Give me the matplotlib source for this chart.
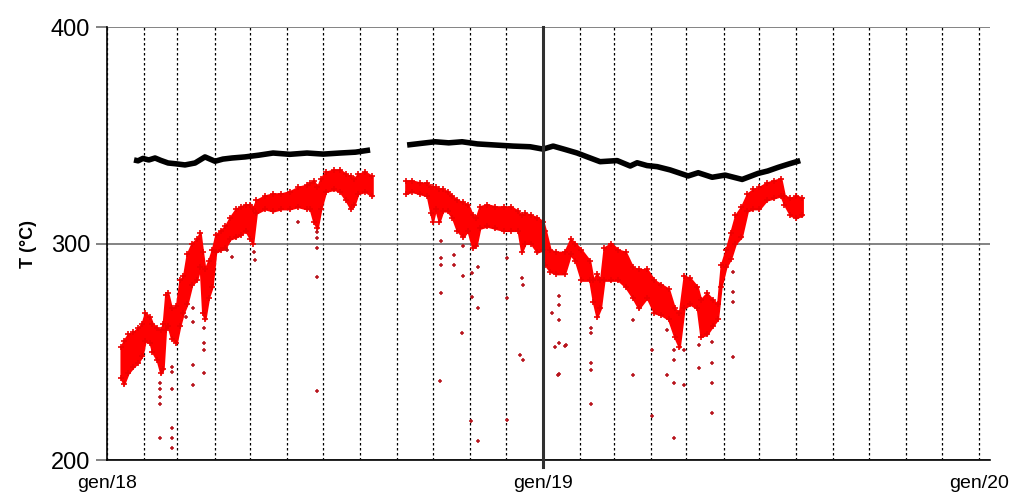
import matplotlib
matplotlib.use("Agg")
import matplotlib.pyplot as plt
import matplotlib.dates as mdates
import numpy as np
from datetime import datetime

plt.rcParams['font.family'] = ['Liberation Sans', 'DejaVu Sans']

# giorni dal 1 gen 2018
# serie rossa: inviluppo (min / max) della nuvola di punti
red1_day = [11.7, 14, 17.6, 22, 26, 29.3, 32, 36, 38, 42, 45, 47, 49, 51, 54, 58, 61, 64, 67, 71,
            75, 78, 80, 82, 85, 88, 91, 95, 99, 103, 108, 112, 116, 120, 122, 125, 132, 139, 146,
            153, 160, 167, 170, 173, 176, 179, 183, 190, 195, 200, 204, 207, 210, 216, 222]
red1_lo = [238, 235, 240, 243, 245, 248, 255, 254, 250, 246, 240, 242, 260, 262, 256, 254, 262, 268,
           272, 281, 283, 289, 268, 265, 275, 280, 296, 297, 298, 302, 303, 304, 306, 302, 300, 314,
           316, 315, 316, 316, 317, 316, 316, 310, 307, 316, 324, 325, 324, 320, 316, 318, 323, 324, 322]
red1_hi = [252, 255, 258, 259, 261, 263, 268, 266, 263, 261, 260, 263, 276, 277, 270, 271, 283, 285,
           295, 300, 302, 305, 296, 288, 292, 297, 304, 306, 308, 312, 316, 317, 318, 318, 316, 320,
           322, 323, 323, 324, 326, 327, 328, 329, 326, 330, 333, 334, 334, 332, 331, 330, 332, 333, 331]

red2_day = [250, 255, 262, 268, 271, 272.5, 275, 278, 281, 285, 289, 293, 298, 302, 306, 309, 312,
            318, 325, 332, 338, 344, 347, 350, 355, 360, 365, 367, 371, 376, 383, 388, 392, 397,
            404, 407, 410, 413, 416, 422, 428, 434, 440, 445, 452, 458, 464, 470, 475, 479, 483,
            488, 494, 497, 502, 507, 511, 514, 518, 522, 526, 531, 536, 541, 546, 552, 558, 564,
            567, 572, 577, 582]
red2_lo = [323, 324, 323, 322, 314, 310, 316, 310, 315, 315, 312, 306, 303, 306, 298, 299, 307, 308,
           307, 306, 306, 306, 296, 300, 300, 296, 297, 290, 287, 286, 286, 295, 292, 283, 283, 273,
           266, 270, 283, 283, 283, 280, 275, 270, 275, 268, 267, 265, 257, 252, 270, 272, 270, 257,
           258, 262, 265, 280, 289, 293, 300, 303, 315, 316, 316, 320, 321, 322, 318, 313, 312, 313]
red2_hi = [329, 329, 328, 328, 326, 326, 326, 325, 325, 324, 322, 320, 319, 318, 313, 312, 317, 318,
           317, 317, 317, 315, 313, 314, 313, 312, 310, 306, 297, 296, 296, 302, 300, 297, 292, 283,
           286, 283, 298, 300, 297, 296, 289, 288, 288, 283, 281, 279, 270, 268, 285, 284, 280, 274,
           277, 274, 272, 290, 297, 305, 313, 317, 323, 325, 326, 328, 329, 330, 322, 321, 322, 321]

# punti isolati
out_day = [44.4, 44.4, 44.4, 44.4, 44.4, 54.4, 54.4, 54.4, 54.4, 54.4, 54.4, 66.1, 72, 72, 72, 72,
           81.2, 81.2, 81.2, 81.2, 100.5, 104.6, 123, 123.9, 159.9, 175.8, 175.8, 175.8, 175.8, 175.8,
           278.8, 279.6, 279.6, 279.6, 279.6, 290.5, 290.5, 297.2, 298, 298, 304.7, 305.6, 305.6,
           310.6, 310.6, 310.6, 334.9, 334.9, 334.9, 345.8, 347.4, 348.3, 348.3, 372.5, 375, 377.6,
           378.4, 378.4, 378.4, 378.4, 378.4, 383.4, 384.3, 405.2, 405.2, 405.2, 405.2, 405.2,
           440.4, 440.4, 456.3, 456.3, 468.8, 468.8, 474.7, 474.7, 474.7, 474.7, 482.9, 482.9,
           495.6, 495.6, 506.5, 506.5, 506.5, 506.5, 524.1, 524.1, 524.1, 524.1]
out_temp = [235.6, 233, 229, 226, 210, 243, 240.7, 232.8, 215, 210, 205.5, 266, 270, 263.7, 244, 234.6,
            261, 254, 250.8, 240.2, 297, 293.8, 296, 292.4, 310, 305.3, 302.5, 298, 284.5, 232,
            236.5, 301, 293.3, 290, 277, 294.7, 290, 258.6, 299, 285, 218, 286.4, 275.3,
            289, 270, 208.8, 293.3, 274.8, 218.5, 248.5, 284, 280.8, 246.4, 268, 252, 239.3,
            275.8, 271.6, 264.7, 254, 239.7, 252.7, 253, 261, 258.6, 244.8, 241.6, 225.9,
            264.7, 239.3, 250.8, 220.5, 260, 239.3, 250.8, 246, 235.6, 210, 250.8, 234.6,
            253, 242.5, 254.5, 244.8, 235.6, 221.5, 286.8, 277.6, 273, 247.6]

# serie nera
blk1_day = [22.6, 26, 30, 35, 40.2, 45, 51.1, 58, 65.3, 73.7, 82, 90.4, 97, 104.6, 115.5, 127, 139,
            153, 167.4, 181, 195, 208, 220.2]
blk1_temp = [338.6, 338.2, 339.3, 338.6, 339.5, 338.4, 337.2, 336.8, 336.3, 337.2, 340, 338, 339, 339.5,
             340, 340.8, 341.8, 341.2, 341.8, 341.3, 341.8, 342.2, 343.2]
blk2_day = [251.2, 262, 274.6, 286, 297.2, 310, 324.8, 340, 354.1, 365, 373.4, 383, 393.5, 403, 412.7,
            427, 437.9, 443.7, 452, 460.5, 471.3, 486.4, 494.8, 506.5, 517.4, 531.6, 545, 553,
            561.8, 571, 580.2]
blk2_temp = [345.5, 346.2, 347, 346.5, 347, 346, 345.5, 345, 344.7, 343.6, 345, 343.5, 341.8, 339.8,
             337.8, 338.3, 335.8, 337.3, 336, 335.5, 334, 331.2, 332.7, 330.6, 331.6, 329.6, 332.4,
             333.5, 335.2, 336.8, 338.3]

base = mdates.date2num(datetime(2018, 1, 1))

def dd(days):
    return base + np.array(days, dtype=float)

fig = plt.figure(figsize=(10.23, 4.94), dpi=100)
ax = fig.add_axes([0.1046, 0.0688, 0.8631, 0.8765])

for d, lo, hi in [(red1_day, red1_lo, red1_hi), (red2_day, red2_lo, red2_hi)]:
    ax.fill_between(dd(d), lo, hi, color='#ff0000', lw=1.5, edgecolor='#ff0000')
    ax.plot(dd(d), lo, ls='none', marker='+', ms=5, mew=1.2, color='#ee0000')
    ax.plot(dd(d), hi, ls='none', marker='+', ms=5, mew=1.2, color='#ee0000')
ax.scatter(dd(out_day), out_temp, s=6, color='#b8141c', marker='+', linewidths=1.1, zorder=3)

ax.plot(dd(blk1_day), blk1_temp, color='black', lw=4, solid_capstyle='butt', zorder=4)
ax.plot(dd(blk2_day), blk2_temp, color='black', lw=4, solid_capstyle='butt', zorder=4)

ax.set_xlim(base, base + 739)
ax.set_ylim(200, 400)
ax.set_yticks([200, 300, 400])

ax.xaxis.set_major_locator(mdates.YearLocator())
ax.xaxis.set_major_formatter(plt.FuncFormatter(lambda v, p: 'gen/' + mdates.num2date(v).strftime('%y')))
ax.xaxis.set_minor_locator(mdates.MonthLocator())
ax.grid(which='both', axis='x', color='black', linestyle=(0, (2, 2)), lw=0.9)
ax.grid(which='major', axis='y', color='#6e6e6e', lw=1.2)
ax.set_axisbelow(True)
ax.axvline(mdates.date2num(datetime(2019, 1, 1)), ymin=-0.017, ymax=1, color='#303030', lw=2.2,
           clip_on=False, zorder=5)

ax.tick_params(axis='x', which='both', length=0, pad=11, labelsize=14)
ax.tick_params(axis='y', length=8, width=1.2, color='#6e6e6e', labelsize=17, pad=4)

ax.spines['top'].set_visible(False)
ax.spines['right'].set_visible(False)
ax.spines['left'].set_linewidth(1.2)
ax.spines['bottom'].set_linewidth(1.2)

ax.set_ylabel('T (°C)', fontsize=13, fontweight='bold', labelpad=10)

fig.savefig('out.png', dpi=100)
